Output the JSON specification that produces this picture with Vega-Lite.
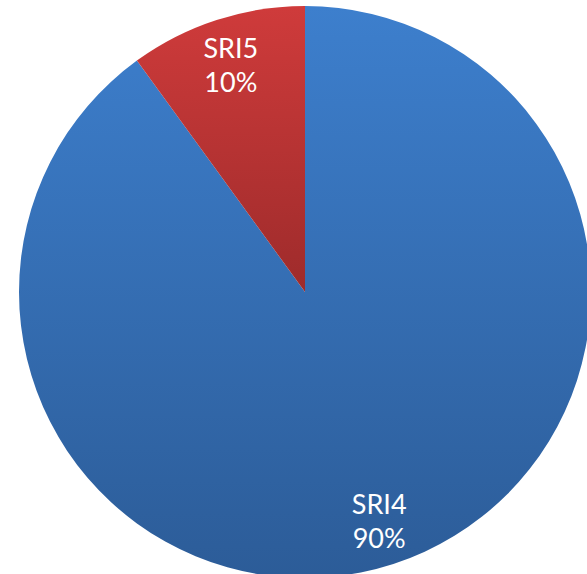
{
  "$schema": "https://vega.github.io/schema/vega-lite/v6.json",
  "width": 610,
  "height": 584,
  "padding": 0,
  "autosize": {"type": "none"},
  "background": "white",
  "view": {"stroke": null},
  "data": {"values": [
    {"category": "SRI4", "value": 90, "order": 1, "label": "SRI4\n90%"},
    {"category": "SRI5", "value": 10, "order": 2, "label": "SRI5\n10%"}
  ]},
  "encoding": {
    "theta": {"field": "value", "type": "quantitative", "stack": true},
    "order": {"field": "order", "type": "quantitative"}
  },
  "layer": [
    {
      "mark": {"type": "arc", "outerRadius": 286, "stroke": null},
      "encoding": {
        "fill": {
          "condition": {
            "test": "datum.category === 'SRI5'",
            "value": {"gradient": "linear", "x1": 0, "y1": 0, "x2": 0, "y2": 1,
              "stops": [{"offset": 0, "color": "#cf3b3b"}, {"offset": 1, "color": "#9e2b2b"}]}
          },
          "value": {"gradient": "linear", "x1": 0, "y1": 0, "x2": 0, "y2": 1,
            "stops": [{"offset": 0, "color": "#3d7fcd"}, {"offset": 1, "color": "#2c5c98"}]}
        }
      }
    },
    {
      "mark": {"type": "text", "radius": 240, "dy": -14, "font": "Lato", "fontWeight": 400, "fontSize": 27, "fill": "white", "align": "center", "baseline": "middle", "lineBreak": "\n", "lineHeight": 34},
      "encoding": {
        "text": {"field": "label", "type": "nominal"}
      }
    }
  ]
}
